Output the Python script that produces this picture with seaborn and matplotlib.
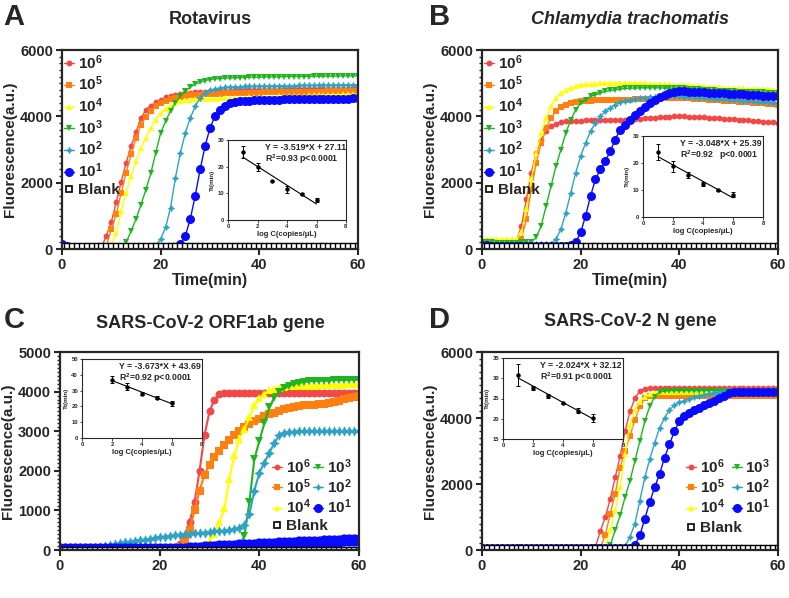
import numpy as np
import pandas as pd
import matplotlib
matplotlib.use("Agg")
import matplotlib.pyplot as plt
import seaborn as sns
from matplotlib.lines import Line2D
from matplotlib.ticker import AutoMinorLocator

# ---------------- data ----------------
TIME = list(range(61))

# Panel A: Rotavirus
A_1e6 = [150, 90, 70, 60, 55, 55, 50, 50, 60, 400,
         820, 1420, 2030, 2600, 3100, 3530, 3940, 4200, 4320, 4420,
         4500, 4570, 4620, 4650, 4680, 4700, 4710, 4720, 4730, 4740,
         4750, 4760, 4760, 4770, 4770, 4780, 4780, 4780, 4790, 4790,
         4790, 4800, 4800, 4800, 4800, 4810, 4810, 4810, 4810, 4820,
         4820, 4820, 4820, 4820, 4830, 4830, 4830, 4830, 4830, 4840, 4840]
A_1e5 = [120, 80, 60, 55, 50, 50, 50, 55, 60, 90,
         600, 1050, 1700, 2300, 2850, 3350, 3750, 3980, 4150, 4300,
         4400, 4470, 4520, 4560, 4590, 4610, 4630, 4640, 4650, 4660,
         4670, 4680, 4680, 4690, 4690, 4700, 4700, 4700, 4710, 4710,
         4710, 4720, 4720, 4720, 4720, 4730, 4730, 4730, 4730, 4740,
         4740, 4740, 4740, 4740, 4750, 4750, 4750, 4750, 4750, 4760, 4760]
A_1e4 = [100, 70, 60, 50, 50, 50, 50, 50, 60, 80,
         150, 480, 1150, 1700, 2200, 2650, 3050, 3350, 3650, 3900,
         4100, 4230, 4330, 4400, 4450, 4480, 4500, 4510, 4520, 4520,
         4530, 4530, 4540, 4540, 4550, 4550, 4560, 4560, 4570, 4570,
         4580, 4580, 4590, 4590, 4600, 4600, 4610, 4610, 4620, 4620,
         4630, 4630, 4640, 4640, 4650, 4650, 4650, 4660, 4660, 4670, 4670]
A_1e3 = [90, 60, 50, 45, 45, 45, 45, 45, 45, 50,
         55, 60, 80, 200, 540, 900, 1330, 1790, 2280, 2900,
         3500, 3850, 4170, 4400, 4600, 4750, 4880, 4970, 5030, 5080,
         5110, 5130, 5140, 5150, 5160, 5160, 5170, 5170, 5180, 5180,
         5180, 5190, 5190, 5190, 5190, 5200, 5200, 5200, 5200, 5200,
         5200, 5210, 5210, 5210, 5210, 5210, 5220, 5220, 5220, 5220, 5220]
A_1e2 = [80, 60, 50, 45, 45, 45, 45, 45, 45, 45,
         45, 45, 45, 45, 50, 50, 50, 55, 60, 100,
         300, 650, 1250, 2150, 2900, 3500, 3950, 4300, 4550, 4700,
         4780, 4830, 4850, 4870, 4880, 4890, 4890, 4900, 4900, 4900,
         4910, 4910, 4910, 4910, 4920, 4920, 4920, 4920, 4930, 4930,
         4930, 4930, 4940, 4940, 4940, 4940, 4950, 4950, 4950, 4950, 4950]
A_1e1 = [160, 90, 70, 60, 60, 60, 60, 60, 60, 60,
         60, 60, 60, 60, 60, 60, 60, 60, 60, 60,
         60, 60, 60, 60, 150, 400, 900, 1600, 2400, 3100,
         3650, 4000, 4200, 4320, 4400, 4430, 4450, 4460, 4470, 4480,
         4490, 4490, 4500, 4500, 4500, 4510, 4510, 4510, 4510, 4520,
         4520, 4520, 4520, 4520, 4530, 4530, 4530, 4530, 4530, 4540, 4540]
A_blank = [100, 90, 85, 80, 80, 80, 80, 80, 80, 80,
           80, 80, 80, 80, 80, 80, 80, 80, 80, 80,
           80, 80, 80, 80, 80, 80, 80, 80, 80, 80,
           80, 80, 80, 80, 80, 80, 80, 80, 80, 80,
           80, 80, 80, 80, 80, 80, 80, 80, 80, 80,
           80, 80, 80, 80, 80, 80, 80, 80, 80, 80, 80]

# Panel B: Chlamydia trachomatis
B_1e6 = [200, 180, 170, 160, 150, 150, 150, 250, 700, 1500,
         2300, 2900, 3300, 3550, 3700, 3780, 3820, 3850, 3860, 3870,
         3870, 3880, 3880, 3880, 3890, 3890, 3890, 3900, 3900, 3900,
         3910, 3920, 3930, 3940, 3950, 3960, 3970, 3980, 3990, 4000,
         4000, 4000, 3990, 3990, 3980, 3970, 3960, 3950, 3940, 3930,
         3920, 3910, 3900, 3890, 3880, 3870, 3860, 3840, 3830, 3820, 3800]
B_1e5 = [180, 160, 150, 150, 140, 140, 140, 150, 300, 900,
         1800, 2600, 3200, 3650, 3950, 4150, 4280, 4350, 4400, 4420,
         4450, 4460, 4470, 4480, 4480, 4490, 4490, 4500, 4500, 4500,
         4500, 4510, 4510, 4520, 4520, 4530, 4530, 4540, 4540, 4550,
         4550, 4540, 4540, 4530, 4520, 4510, 4500, 4490, 4480, 4470,
         4460, 4450, 4440, 4430, 4420, 4410, 4400, 4390, 4380, 4360, 4350]
B_1e4 = [320, 300, 300, 290, 290, 290, 290, 300, 500, 1200,
         2100, 2900, 3500, 3950, 4300, 4550, 4700, 4780, 4850, 4900,
         4950, 4960, 4970, 4980, 4990, 5000, 5000, 5000, 5000, 5000,
         5000, 5000, 4990, 4990, 4980, 4980, 4970, 4970, 4960, 4950,
         4950, 4940, 4930, 4920, 4910, 4900, 4890, 4880, 4870, 4860,
         4850, 4850, 4840, 4840, 4830, 4830, 4820, 4820, 4810, 4800, 4800]
B_1e3 = [220, 200, 200, 190, 190, 190, 190, 190, 200, 200,
         210, 350, 700, 1300, 1900, 2500, 3000, 3500, 3900, 4200,
         4400, 4500, 4600, 4650, 4700, 4750, 4780, 4800, 4820, 4840,
         4850, 4850, 4860, 4860, 4860, 4860, 4860, 4850, 4850, 4850,
         4850, 4840, 4830, 4820, 4810, 4800, 4790, 4780, 4770, 4760,
         4750, 4750, 4740, 4740, 4730, 4730, 4720, 4720, 4710, 4700, 4700]
B_1e2 = [160, 150, 150, 140, 140, 140, 140, 140, 140, 140,
         140, 140, 150, 150, 160, 300, 600, 1100, 1700, 2300,
         2800, 3200, 3550, 3800, 4000, 4150, 4250, 4350, 4420, 4470,
         4500, 4520, 4540, 4560, 4570, 4580, 4590, 4600, 4600, 4600,
         4600, 4590, 4580, 4570, 4560, 4550, 4540, 4530, 4520, 4510,
         4500, 4490, 4480, 4470, 4460, 4450, 4440, 4430, 4420, 4410, 4400]
B_1e1 = [120, 110, 100, 100, 100, 100, 100, 100, 100, 100,
         100, 100, 100, 100, 100, 100, 100, 100, 110, 200,
         500, 1000, 1600, 2100, 2400, 2650, 2950, 3300, 3600, 3750,
         3900, 4030, 4150, 4280, 4400, 4500, 4580, 4650, 4700, 4720,
         4750, 4750, 4740, 4740, 4730, 4720, 4710, 4700, 4700, 4690,
         4680, 4680, 4670, 4660, 4650, 4640, 4630, 4620, 4610, 4600, 4600]
B_blank = [90, 80, 80, 80, 80, 80, 80, 80, 80, 80,
           80, 80, 80, 80, 80, 80, 80, 80, 80, 80,
           80, 80, 80, 80, 80, 80, 80, 80, 80, 80,
           80, 80, 80, 80, 80, 80, 80, 80, 80, 80,
           80, 80, 80, 80, 80, 80, 80, 80, 80, 80,
           80, 80, 80, 80, 80, 80, 80, 80, 80, 80, 80]

# Panel C: SARS-CoV-2 ORF1ab gene
C_1e6 = [40, 40, 40, 40, 40, 40, 40, 40, 40, 40,
         40, 40, 40, 40, 40, 40, 40, 40, 40, 40,
         45, 45, 50, 60, 150, 350, 700, 1200, 2000, 2900,
         3500, 3800, 3930, 3960, 3960, 3960, 3960, 3960, 3960, 3960,
         3960, 3960, 3960, 3960, 3960, 3960, 3960, 3960, 3960, 3960,
         3960, 3960, 3960, 3960, 3960, 3960, 3960, 3960, 3960, 3960, 3960]
C_1e5 = [40, 40, 40, 40, 40, 40, 40, 40, 40, 40,
         40, 40, 40, 40, 40, 40, 40, 40, 40, 40,
         40, 40, 40, 45, 80, 200, 500, 1000, 1500, 1900,
         2150, 2350, 2500, 2650, 2780, 2900, 3000, 3100, 3180, 3250,
         3320, 3380, 3430, 3470, 3510, 3550, 3580, 3610, 3630, 3650,
         3660, 3670, 3680, 3690, 3710, 3740, 3770, 3810, 3840, 3870, 3900]
C_1e4 = [40, 40, 40, 40, 40, 40, 40, 40, 40, 40,
         40, 40, 40, 40, 40, 40, 40, 40, 40, 40,
         40, 40, 40, 40, 40, 40, 40, 50, 60, 150,
         250, 400, 700, 1050, 1800, 2400, 2800, 3050, 3350, 3650,
         3830, 3950, 4030, 4070, 4100, 4120, 4130, 4140, 4140, 4150,
         4150, 4150, 4160, 4160, 4160, 4170, 4170, 4170, 4180, 4180, 4180]
C_1e3 = [40, 40, 40, 40, 40, 40, 40, 40, 40, 40,
         40, 40, 40, 40, 40, 40, 40, 40, 40, 40,
         40, 40, 40, 40, 40, 40, 40, 40, 40, 40,
         40, 40, 40, 40, 40, 50, 100, 350, 1200, 2300,
         2750, 3200, 3600, 3850, 4000, 4080, 4150, 4190, 4220, 4240,
         4260, 4270, 4270, 4280, 4280, 4290, 4290, 4290, 4300, 4300, 4300]
C_1e2 = [50, 50, 50, 50, 50, 50, 50, 60, 70, 100,
         130, 150, 170, 190, 210, 230, 250, 265, 280, 300,
         320, 340, 360, 375, 390, 400, 410, 420, 430, 440,
         455, 470, 480, 490, 500, 520, 560, 640, 900, 1500,
         1950, 2200, 2450, 2700, 2900, 2960, 2980, 2990, 3000, 3000,
         3000, 3000, 3000, 3000, 3000, 3000, 3000, 3000, 3000, 3000, 3000]
C_1e1 = [30, 30, 30, 30, 30, 30, 30, 30, 30, 30,
         30, 30, 30, 30, 30, 30, 30, 30, 30, 30,
         30, 30, 30, 30, 30, 30, 40, 50, 60, 70,
         80, 85, 90, 100, 105, 110, 115, 120, 130, 135,
         140, 145, 150, 160, 165, 170, 175, 180, 190, 195,
         200, 205, 210, 220, 225, 230, 235, 240, 250, 255, 260]
C_blank = [10, 10, 10, 10, 10, 10, 10, 10, 10, 10,
           10, 10, 10, 10, 10, 10, 10, 10, 10, 10,
           10, 10, 10, 10, 10, 10, 10, 10, 10, 10,
           10, 10, 10, 10, 10, 10, 10, 10, 10, 10,
           10, 10, 10, 10, 10, 10, 10, 10, 10, 10,
           10, 10, 10, 10, 10, 10, 10, 10, 10, 10, 10]

# Panel D: SARS-CoV-2 N gene
D_1e6 = [50, 50, 50, 50, 50, 50, 50, 50, 50, 50,
         50, 50, 50, 50, 50, 50, 50, 50, 50, 50,
         50, 50, 50, 100, 580, 1000, 1550, 2200, 2850, 3600,
         4200, 4600, 4820, 4880, 4900, 4900, 4900, 4900, 4900, 4900,
         4900, 4900, 4900, 4900, 4900, 4900, 4900, 4900, 4900, 4900,
         4900, 4900, 4900, 4900, 4900, 4900, 4900, 4900, 4900, 4900, 4900]
D_1e5 = [50, 50, 50, 50, 50, 50, 50, 50, 50, 50,
         50, 50, 50, 50, 50, 50, 50, 50, 50, 50,
         50, 50, 50, 50, 80, 450, 1100, 1700, 2500, 3000,
         3450, 3950, 4350, 4600, 4660, 4680, 4680, 4680, 4680, 4680,
         4680, 4680, 4680, 4680, 4680, 4680, 4680, 4680, 4680, 4680,
         4680, 4680, 4680, 4680, 4680, 4680, 4680, 4680, 4680, 4680, 4680]
D_1e4 = [50, 50, 50, 50, 50, 50, 50, 50, 50, 50,
         50, 50, 50, 50, 50, 50, 50, 50, 50, 50,
         50, 50, 50, 50, 50, 100, 600, 1200, 1900, 2900,
         3800, 4250, 4500, 4650, 4720, 4760, 4780, 4780, 4780, 4780,
         4780, 4780, 4780, 4780, 4780, 4780, 4780, 4780, 4780, 4780,
         4780, 4780, 4780, 4780, 4780, 4780, 4780, 4780, 4780, 4780, 4780]
D_1e3 = [50, 50, 50, 50, 50, 50, 50, 50, 50, 50,
         50, 50, 50, 50, 50, 50, 50, 50, 50, 50,
         50, 50, 50, 50, 50, 50, 150, 600, 1050, 1600,
         2100, 2700, 3300, 3900, 4350, 4650, 4780, 4820, 4830, 4830,
         4830, 4830, 4830, 4830, 4830, 4830, 4830, 4830, 4830, 4830,
         4830, 4830, 4830, 4830, 4830, 4830, 4830, 4830, 4830, 4830, 4830]
D_1e2 = [50, 50, 50, 50, 50, 50, 50, 50, 50, 50,
         50, 50, 50, 50, 50, 50, 50, 50, 50, 50,
         50, 50, 50, 50, 50, 50, 50, 50, 60, 120,
         400, 800, 1500, 2200, 2750, 3250, 3700, 4000, 4250, 4380,
         4470, 4530, 4580, 4630, 4670, 4710, 4740, 4770, 4790, 4800,
         4820, 4820, 4820, 4820, 4820, 4820, 4820, 4820, 4820, 4820, 4820]
D_1e1 = [50, 50, 50, 50, 50, 50, 50, 50, 50, 50,
         50, 50, 50, 50, 50, 50, 50, 50, 50, 50,
         50, 50, 50, 50, 50, 50, 50, 50, 50, 50,
         60, 150, 450, 950, 1450, 1900, 2300, 2800, 3200, 3600,
         3900, 4050, 4150, 4230, 4300, 4380, 4450, 4520, 4600, 4680,
         4750, 4800, 4800, 4800, 4800, 4800, 4800, 4800, 4800, 4800, 4800]
D_blank = [60, 60, 60, 60, 60, 60, 60, 60, 60, 60,
           60, 60, 60, 60, 60, 60, 60, 60, 60, 60,
           60, 60, 60, 60, 60, 60, 60, 60, 60, 60,
           60, 60, 60, 60, 60, 60, 60, 60, 60, 60,
           60, 60, 60, 60, 60, 60, 60, 60, 60, 60,
           60, 60, 60, 60, 60, 60, 60, 60, 60, 60, 60]

# Insets: log concentration vs Tt
A_logc = [1, 2, 3, 4, 5, 6]
A_tt = [25.4, 20.0, 14.8, 11.6, 9.8, 7.5]
A_err = [2.2, 1.5, 0.0, 1.3, 0.4, 0.8]
A_fit = (-3.519, 27.11)
B_logc = [1, 2, 3, 4, 5, 6]
B_tt = [24.0, 18.8, 15.5, 12.3, 10.0, 8.3]
B_err = [3.0, 2.0, 1.2, 0.8, 0.3, 1.0]
B_fit = (-3.048, 25.39)
C_logc = [2, 3, 4, 5, 6]
C_tt = [37.0, 32.5, 28.0, 25.5, 22.0]
C_err = [2.0, 2.0, 1.0, 1.0, 1.5]
C_fit = (-3.673, 43.69)
D_logc = [1, 2, 3, 4, 5, 6]
D_tt = [30.7, 27.7, 25.7, 23.8, 22.0, 20.2]
D_err = [2.7, 0.5, 0.5, 0.15, 0.7, 1.0]
D_fit = (-2.024, 32.12)

SERIES_KEYS = ["1e6", "1e5", "1e4", "1e3", "1e2", "1e1"]
SERIES_LABELS = [r"$\mathbf{10^6}$", r"$\mathbf{10^5}$", r"$\mathbf{10^4}$",
                 r"$\mathbf{10^3}$", r"$\mathbf{10^2}$", r"$\mathbf{10^1}$"]

# ---------------- style ----------------
sns.set_style("ticks")
plt.rcParams["font.family"] = ["Liberation Sans", "DejaVu Sans"]
plt.rcParams["font.weight"] = "bold"
plt.rcParams["axes.labelweight"] = "bold"
plt.rcParams["mathtext.fontset"] = "custom"
plt.rcParams["mathtext.rm"] = "Liberation Sans:bold"
plt.rcParams["mathtext.bf"] = "Liberation Sans:bold"
plt.rcParams["mathtext.it"] = "Liberation Sans:bold:italic"

STY = {
    "1e6": dict(color="#f24848", marker="o", ms=4.2),
    "1e5": dict(color="#ff7f10", marker="s", ms=4.0),
    "1e4": dict(color="#ffff00", marker="^", ms=4.6),
    "1e3": dict(color="#1fb51f", marker="v", ms=4.6),
    "1e2": dict(color="#2ea3c4", marker=(4, 1, 0), ms=5.5),
    "1e1": dict(color="#0a0aff", marker="o", ms=6.5),
}

W, H = 789, 598
fig = plt.figure(figsize=(W / 100, H / 100), dpi=100)


def rect(l, t, r, b):
    return [l / W, 1 - b / H, (r - l) / W, (b - t) / H]


def draw_main(ax, series, blank, ymax, ystep, msscale=1.0, lw=1.0):
    for key, vals in zip(SERIES_KEYS, series):
        s = STY[key]
        sns.lineplot(x=TIME, y=vals, ax=ax, color=s["color"], marker=s["marker"],
                     markersize=s["ms"] * msscale, markeredgewidth=0,
                     linewidth=lw, sort=False, errorbar=None, legend=False)
    sns.lineplot(x=TIME, y=blank, ax=ax, color="black", marker="s",
                 markerfacecolor="white", markeredgecolor="black",
                 markeredgewidth=1.0, markersize=3.8, linewidth=1.2,
                 linestyle=(0, (3, 1.5)), sort=False, errorbar=None, legend=False)
    ax.set_xlim(0, 60)
    ax.set_ylim(0, ymax)
    ax.set_xticks([0, 20, 40, 60])
    ax.set_yticks(np.arange(0, ymax + 1, ystep))
    ax.yaxis.set_minor_locator(AutoMinorLocator(10))
    for sp in ax.spines.values():
        sp.set_linewidth(1.6)
        sp.set_visible(True)
    ax.tick_params(axis="both", which="major", labelsize=10.5, width=1.5, length=4,
                   direction="out", pad=2.5)
    ax.tick_params(axis="y", which="minor", width=1.0, length=2.5)
    for lab in ax.get_xticklabels() + ax.get_yticklabels():
        lab.set_fontweight("bold")
    ax.set_xlabel("")
    ax.set_ylabel("Fluorescence(a.u.)", fontsize=11, fontweight="bold", labelpad=2)


def legend_handles(msscale=1.0):
    hs = []
    for key in SERIES_KEYS:
        s = STY[key]
        hs.append(Line2D([0], [0], color=s["color"], marker=s["marker"],
                         markersize=s["ms"] * msscale, markeredgewidth=0, lw=1.0))
    blank = Line2D([0], [0], color="black", marker="s", markerfacecolor="white",
                   markeredgecolor="black", markeredgewidth=1.2, markersize=4.5, lw=0)
    return hs, blank


def draw_inset(ax, logc, tt, err, fit, ylim, ystep, eq, r2):
    ax.set_facecolor("white")
    ax.errorbar(logc, tt, yerr=err, fmt="o", color="black", ms=2.2,
                capsize=1.5, elinewidth=0.7, capthick=0.7, zorder=3)
    x0, x1 = logc[0], logc[-1]
    sns.lineplot(x=[x0, x1], y=[fit[0] * x0 + fit[1], fit[0] * x1 + fit[1]],
                 ax=ax, color="black", linewidth=0.8, errorbar=None, legend=False)
    ax.set_xlim(0, 8)
    ax.set_ylim(*ylim)
    ax.set_xticks([0, 2, 4, 6, 8])
    ax.set_yticks(np.arange(ylim[0], ylim[1] + 0.1, ystep))
    for sp in ax.spines.values():
        sp.set_linewidth(0.8)
        sp.set_visible(True)
    ax.tick_params(axis="both", labelsize=4.2, width=0.6, length=1.8, pad=1)
    ax.set_xlabel("log C(copies/μL)", fontsize=5.5, fontweight="bold", labelpad=1.5)
    ax.set_ylabel("Tt(min)", fontsize=4.5, fontweight="bold", labelpad=1.5)
    ax.text(0.31, 0.91, eq, transform=ax.transAxes, fontsize=6.3, fontweight="bold",
            va="center", ha="left")
    ax.text(0.31, 0.76, r2, transform=ax.transAxes, fontsize=6.3, fontweight="bold",
            va="center", ha="left")


def vertical_legend(ax, hs, hb):
    ax.legend(hs + [hb], SERIES_LABELS + ["Blank"], loc="upper left",
              bbox_to_anchor=(-0.002, 1.0), frameon=False, fontsize=11,
              handlelength=0.65, handletextpad=0.25, labelspacing=0.2,
              borderaxespad=0.1, borderpad=0.1)


def grid_legend(ax, hs, hb, x0, y0, yb, colsp):
    # six concentrations in two columns, Blank underneath the first column
    leg1 = ax.legend(hs, SERIES_LABELS, loc="upper left", bbox_to_anchor=(x0, y0),
                     frameon=False, fontsize=11, ncol=2, handlelength=0.65,
                     handletextpad=0.25, labelspacing=0.1, columnspacing=colsp,
                     borderaxespad=0.0, borderpad=0.0)
    ax.add_artist(leg1)
    ax.legend([hb], ["Blank"], loc="upper left", bbox_to_anchor=(x0, yb),
              frameon=False, fontsize=11, handlelength=0.65, handletextpad=0.25,
              borderaxespad=0.0, borderpad=0.0)


# ---------------- Panel A ----------------
axA = fig.add_axes(rect(62, 50, 358, 249))
draw_main(axA, [A_1e6, A_1e5, A_1e4, A_1e3, A_1e2, A_1e1], A_blank, 6000, 2000)
axA.set_xlabel("Time(min)", fontsize=11.5, fontweight="bold", labelpad=1)
hs, hb = legend_handles()
vertical_legend(axA, hs, hb)
insA = fig.add_axes(rect(228, 140, 346, 220))
draw_inset(insA, A_logc, A_tt, A_err, A_fit, (0, 30), 10,
           "Y = -3.519*X + 27.11", r"R$^\mathbf{2}$=0.93 p<0.0001")

# ---------------- Panel B ----------------
axB = fig.add_axes(rect(482, 50, 778, 249))
draw_main(axB, [B_1e6, B_1e5, B_1e4, B_1e3, B_1e2, B_1e1], B_blank, 6000, 2000)
axB.set_xlabel("Time(min)", fontsize=11.5, fontweight="bold", labelpad=1)
vertical_legend(axB, hs, hb)
insB = fig.add_axes(rect(643, 136, 763, 217))
draw_inset(insB, B_logc, B_tt, B_err, B_fit, (0, 30), 10,
           "Y = -3.048*X + 25.39", r"R$^\mathbf{2}$=0.92   p<0.0001")

# ---------------- Panel C ----------------
axC = fig.add_axes(rect(60, 352, 359, 550))
draw_main(axC, [C_1e6, C_1e5, C_1e4, C_1e3, C_1e2, C_1e1], C_blank, 5000, 1000,
          msscale=1.35, lw=1.5)
grid_legend(axC, hs, hb, (272 - 60) / 299, 1 - (457 - 352) / 198,
            1 - (519 - 352) / 198, 0.15)
insC = fig.add_axes(rect(82, 359, 202, 438))
draw_inset(insC, C_logc, C_tt, C_err, C_fit, (0, 50), 10,
           "Y = -3.673*X + 43.69", r"R$^\mathbf{2}$=0.92 p<0.0001")

# ---------------- Panel D ----------------
axD = fig.add_axes(rect(482, 352, 778, 550))
draw_main(axD, [D_1e6, D_1e5, D_1e4, D_1e3, D_1e2, D_1e1], D_blank, 6000, 2000)
grid_legend(axD, hs, hb, (686 - 482) / 296, 1 - (457 - 352) / 198,
            1 - (521 - 352) / 198, 0.45)
insD = fig.add_axes(rect(503, 358, 623, 439))
draw_inset(insD, D_logc, D_tt, D_err, D_fit, (15, 35), 5,
           "Y = -2.024*X + 32.12", r"R$^\mathbf{2}$=0.91 p<0.0001")

# ---------------- titles & panel letters ----------------
fig.text(210 / W, 1 - 20 / H, "Rotavirus", ha="center", va="center",
         fontsize=13, fontweight="bold")
fig.text(630 / W, 1 - 20 / H, "Chlamydia trachomatis", ha="center", va="center",
         fontsize=13, fontweight="bold", style="italic")
fig.text(210 / W, 1 - 323 / H, "SARS-CoV-2 ORF1ab gene", ha="center", va="center",
         fontsize=13, fontweight="bold")
fig.text(630 / W, 1 - 322 / H, "SARS-CoV-2 N gene", ha="center", va="center",
         fontsize=13, fontweight="bold")
for letter, (px, py) in {"A": (14, 17), "B": (440, 17), "C": (14, 320), "D": (440, 320)}.items():
    fig.text(px / W, 1 - py / H, letter, ha="center", va="center",
             fontsize=21, fontweight="bold")

fig.savefig("out.png", dpi=100)
